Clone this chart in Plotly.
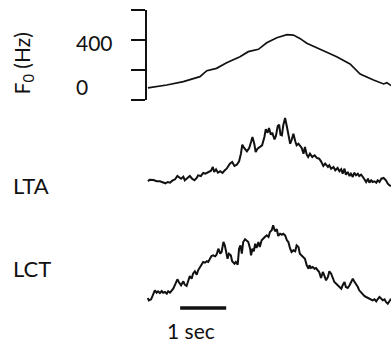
import plotly.graph_objects as go

# ---------------- data ----------------
# F0 contour (time in s, F0 in Hz)
f0_t = [0.00, 0.41, 0.77, 1.13, 1.28, 1.49, 1.71, 2.00, 2.18, 2.40, 2.58, 2.80, 3.02,
        3.16, 3.30, 3.45, 3.74, 4.10, 4.39, 4.61, 4.90, 5.12, 5.19, 5.28]
f0_hz = [0, 25, 54, 96, 147, 167, 215, 266, 309, 329, 385, 428, 453,
         450, 422, 380, 329, 266, 204, 119, 68, 34, 45, 20]

# LTA EMG envelope (a.u.)
lta_t = [0.00, 0.04, 0.12, 0.19, 0.26, 0.33, 0.38, 0.43, 0.48, 0.53, 0.59, 0.64, 0.67, 0.72,
         0.77, 0.80, 0.86, 0.91, 0.96, 1.01, 1.06, 1.09, 1.15, 1.20, 1.25, 1.31, 1.37, 1.41,
         1.44, 1.48, 1.52, 1.57, 1.62, 1.67, 1.71, 1.78, 1.83, 1.88, 1.93, 1.98, 2.02, 2.05,
         2.09, 2.15, 2.20, 2.24, 2.27, 2.31, 2.34, 2.38, 2.43, 2.48, 2.53, 2.56, 2.60, 2.63,
         2.67, 2.70, 2.75, 2.78, 2.82, 2.85, 2.88, 2.91, 2.94, 2.98, 3.02, 3.05, 3.09, 3.12,
         3.16, 3.20, 3.23, 3.27, 3.30, 3.34, 3.38, 3.41, 3.45, 3.48, 3.52, 3.57, 3.62, 3.67,
         3.72, 3.76, 3.81, 3.85, 3.91, 3.94, 3.98, 4.03, 4.07, 4.12, 4.16, 4.20, 4.23, 4.27,
         4.30, 4.34, 4.38, 4.41, 4.45, 4.48, 4.52, 4.56, 4.59, 4.63, 4.67, 4.70, 4.74, 4.78,
         4.81, 4.85, 4.88, 4.92, 4.96, 4.99, 5.03, 5.07, 5.12, 5.17, 5.21, 5.25, 5.28]
lta_v = [8.7, 10.3, 10.0, 8.7, 8.7, 7.3, 6.7, 8.0, 7.3, 9.3, 10.7, 14.0, 12.7, 11.3,
         13.3, 9.7, 12.0, 14.0, 11.3, 9.7, 12.0, 14.7, 14.0, 17.0, 16.3, 18.0, 19.3, 23.0,
         18.0, 20.7, 17.3, 18.7, 17.0, 19.7, 21.3, 26.3, 28.0, 24.0, 25.3, 28.7, 36.3, 45.3,
         42.0, 38.7, 42.0, 48.0, 53.0, 46.3, 38.0, 41.3, 43.0, 44.7, 53.0, 60.7, 57.3, 62.0,
         55.3, 57.3, 50.7, 54.0, 64.0, 65.3, 55.3, 54.7, 64.7, 72.0, 63.0, 55.3, 46.3, 49.7,
         56.3, 48.7, 44.7, 46.3, 44.7, 42.0, 36.3, 43.0, 35.3, 33.0, 36.3, 33.0, 34.7, 32.0,
         31.3, 28.7, 24.0, 26.3, 23.0, 24.7, 21.3, 23.0, 19.7, 22.0, 18.7, 20.7, 16.3, 21.3,
         15.3, 18.0, 14.0, 16.3, 13.0, 17.3, 14.7, 16.3, 14.0, 15.3, 13.0, 11.3, 8.0, 11.3,
         7.3, 9.7, 8.0, 8.7, 7.3, 9.7, 8.0, 11.3, 12.0, 9.7, 6.3, 4.7, 4.0]

# LCT EMG envelope (a.u.)
lct_t = [0.00, 0.02, 0.07, 0.12, 0.15, 0.19, 0.22, 0.26, 0.30, 0.33, 0.37, 0.41, 0.44, 0.48,
         0.52, 0.55, 0.60, 0.64, 0.67, 0.72, 0.77, 0.80, 0.84, 0.88, 0.91, 0.95, 0.98, 1.02,
         1.06, 1.09, 1.13, 1.17, 1.20, 1.24, 1.28, 1.31, 1.35, 1.38, 1.42, 1.46, 1.49, 1.53,
         1.57, 1.60, 1.64, 1.67, 1.70, 1.73, 1.76, 1.80, 1.83, 1.88, 1.91, 1.95, 1.98, 2.01,
         2.04, 2.07, 2.11, 2.15, 2.18, 2.22, 2.24, 2.27, 2.30, 2.33, 2.36, 2.40, 2.43, 2.47,
         2.51, 2.54, 2.58, 2.62, 2.65, 2.69, 2.72, 2.76, 2.80, 2.83, 2.87, 2.91, 2.94, 2.98,
         3.02, 3.05, 3.09, 3.12, 3.16, 3.20, 3.23, 3.27, 3.30, 3.34, 3.38, 3.41, 3.45, 3.49,
         3.51, 3.54, 3.58, 3.62, 3.65, 3.69, 3.72, 3.76, 3.80, 3.83, 3.87, 3.91, 3.94, 3.98,
         4.02, 4.05, 4.09, 4.12, 4.16, 4.20, 4.23, 4.27, 4.30, 4.34, 4.38, 4.41, 4.45, 4.48,
         4.52, 4.56, 4.59, 4.63, 4.67, 4.70, 4.74, 4.78, 4.81, 4.85, 4.88, 4.92, 4.96, 4.99,
         5.03, 5.07, 5.10, 5.14, 5.17, 5.21, 5.25, 5.28]
lct_v = [7.0, 4.7, 5.7, 11.3, 14.7, 12.3, 13.7, 12.0, 14.0, 12.3, 13.0, 11.3, 13.7, 12.3,
         14.7, 16.3, 21.3, 25.7, 23.0, 19.7, 23.7, 20.3, 19.0, 25.7, 29.0, 26.3, 31.3, 33.7,
         30.3, 34.7, 38.0, 40.3, 43.0, 42.3, 43.7, 43.0, 46.3, 49.0, 49.7, 48.7, 50.3, 56.3,
         51.3, 53.0, 63.0, 59.7, 53.0, 46.3, 51.3, 49.7, 43.7, 41.3, 43.0, 40.3, 56.3, 59.7,
         51.3, 63.0, 65.7, 63.7, 63.0, 56.3, 49.7, 56.3, 53.7, 61.3, 57.0, 63.0, 58.0, 64.7,
         67.0, 68.0, 69.7, 68.0, 73.0, 74.7, 79.7, 73.7, 75.7, 69.0, 71.3, 70.3, 71.3, 69.7,
         64.7, 63.0, 56.3, 53.0, 54.7, 53.7, 59.7, 58.0, 51.3, 49.7, 48.0, 46.3, 39.7, 36.3,
         39.7, 37.0, 38.0, 36.3, 37.0, 34.7, 33.0, 27.0, 33.0, 29.7, 24.7, 28.0, 33.7, 31.3,
         26.3, 23.0, 21.3, 19.7, 18.0, 16.3, 19.7, 23.0, 18.0, 17.0, 19.7, 23.0, 26.3, 23.7,
         21.3, 18.0, 14.7, 12.3, 10.3, 9.0, 8.0, 7.0, 7.0, 5.7, 4.7, 5.7, 3.7, 5.7,
         8.0, 6.3, 4.7, 5.7, 3.0, 1.3, 4.7, 6.3]

# scale bar (seconds) and labels
scale_t = [0.70, 1.70]
scale_label = "1 sec"
f0_tick_labels = {"400": 400, "0": 0}
channel_labels = ["LTA", "LCT"]

# ---------------- figure ----------------
W, H = 391, 352
FONT = "Lato, Carlito, 'Liberation Sans', sans-serif"
INK = "#111111"

fig = go.Figure()
fig.add_trace(go.Scatter(x=f0_t, y=f0_hz, mode="lines", xaxis="x", yaxis="y",
                         line=dict(color=INK, width=1.7), hoverinfo="skip"))
fig.add_trace(go.Scatter(x=lta_t, y=lta_v, mode="lines", xaxis="x", yaxis="y2",
                         line=dict(color=INK, width=2), hoverinfo="skip"))
fig.add_trace(go.Scatter(x=lct_t, y=lct_v, mode="lines", xaxis="x", yaxis="y3",
                         line=dict(color=INK, width=2), hoverinfo="skip"))
fig.add_trace(go.Scatter(x=scale_t, y=[-3, -3], mode="lines", xaxis="x", yaxis="y3",
                         line=dict(color=INK, width=3.5), hoverinfo="skip"))

annotations = []
for txt, val in f0_tick_labels.items():
    annotations.append(dict(text=txt, xref="paper", yref="y", x=0.188, y=val,
                            xanchor="left", yanchor="middle", showarrow=False,
                            yshift=-2 if val else 1,
                            font=dict(family=FONT, size=21, color=INK)))
annotations.append(dict(text="F<sub>0</sub> (Hz)", xref="paper", yref="paper",
                        x=0.059, y=0.82, textangle=-90, showarrow=False,
                        xanchor="center", yanchor="middle",
                        font=dict(family=FONT, size=21, color=INK)))
annotations.append(dict(text=channel_labels[0], xref="paper", yref="paper",
                        x=0.028, y=0.4716, xanchor="left", yanchor="middle", showarrow=False,
                        font=dict(family=FONT, size=22, color=INK)))
annotations.append(dict(text=channel_labels[1], xref="paper", yref="paper",
                        x=0.028, y=0.2358, xanchor="left", yanchor="middle", showarrow=False,
                        font=dict(family=FONT, size=22, color=INK)))
annotations.append(dict(text=scale_label, xref="x", yref="paper",
                        x=0.93, y=0.0597, xanchor="center", yanchor="middle", showarrow=False,
                        font=dict(family=FONT, size=21, color=INK)))

fig.update_layout(
    width=W, height=H,
    margin=dict(l=0, r=0, t=0, b=0),
    paper_bgcolor="white", plot_bgcolor="white",
    showlegend=False,
    xaxis=dict(domain=[147 / W, 1], range=[-0.02, 5.28], visible=False, fixedrange=True),
    yaxis=dict(domain=[1 - 100 / H, 1 - 10 / H], range=[-102.5, 663.5], anchor="x",
               showline=True, linecolor=INK, linewidth=2, ticks="outside", ticklen=14,
               tickwidth=2, tickcolor=INK, tick0=-102, dtick=255, showticklabels=False,
               showgrid=False, zeroline=False, fixedrange=True),
    yaxis2=dict(domain=[1 - 200 / H, 1 - 110 / H], range=[-10, 80], anchor="x",
                visible=False, fixedrange=True),
    yaxis3=dict(domain=[1 - 315 / H, 1 - 215 / H], range=[-10, 90], anchor="x",
                visible=False, fixedrange=True),
    annotations=annotations,
)

fig.write_html(
    "out.html",
    config={"displayModeBar": False},
    post_script="document.body.style.margin='0';document.body.style.overflow='hidden';",
)
